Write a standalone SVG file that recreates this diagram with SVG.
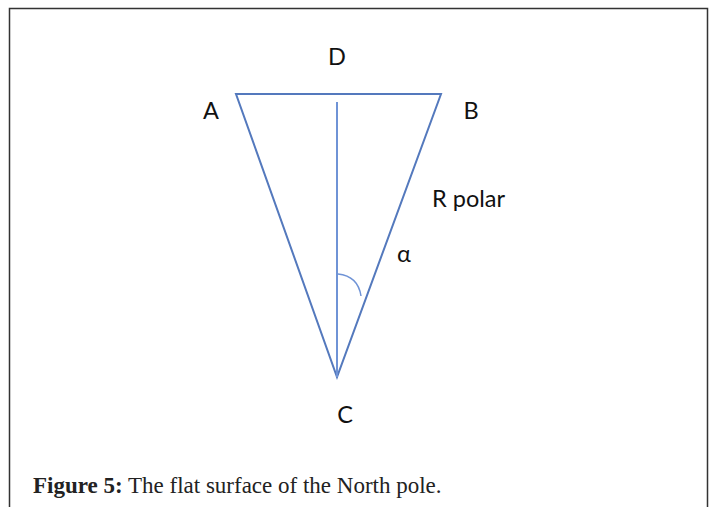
<svg xmlns="http://www.w3.org/2000/svg" width="715" height="507" viewBox="0 0 715 507">
<style>
.lbl{font-family:Lato,"Open Sans","Liberation Sans",sans-serif;font-size:23.5px;fill:#111}
.edge{stroke:#5479bd;stroke-width:2;fill:none}
.cap{font-family:"Liberation Serif","DejaVu Serif",serif;font-size:23px;fill:#222}
</style>
<rect x="0" y="0" width="715" height="507" fill="#fff"/>
<path d="M9.5,520 V8.5 H707.5 V520" fill="none" stroke="#333" stroke-width="1.5"/>
<g id="connectors">
<path class="edge" d="M236,94 H441 L337,377 Z" stroke-linejoin="miter"/>
<line x1="337" y1="102" x2="337" y2="377" stroke="#6f93d6" stroke-width="2"/>
<path d="M338,274 Q358,276 361,296" fill="none" stroke="#6f93d6" stroke-width="1.5"/>
</g>
<g id="D"><text class="lbl" x="337" y="65" text-anchor="middle">D</text></g>
<g id="A"><text class="lbl" x="211" y="119" text-anchor="middle">A</text></g>
<g id="B"><text class="lbl" x="471" y="119" text-anchor="middle">B</text></g>
<g id="C"><text class="lbl" x="345" y="423" text-anchor="middle">C</text></g>
<g id="R"><text class="lbl" x="432" y="207">R polar</text></g>
<g id="alpha"><text class="lbl" x="404" y="262" text-anchor="middle">α</text></g>
<text class="cap" x="33" y="493"><tspan font-weight="bold">Figure 5:</tspan> The flat surface of the North pole.</text>
</svg>
